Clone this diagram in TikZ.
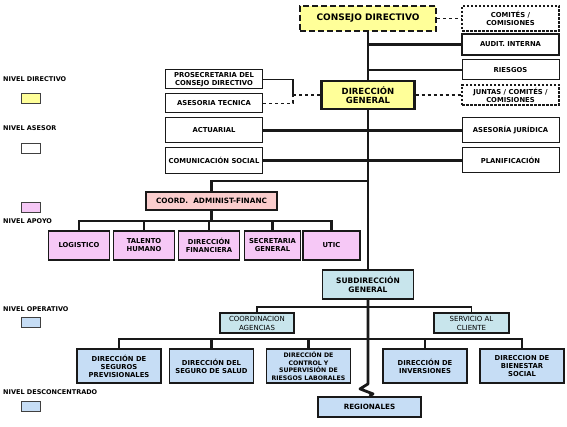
\documentclass[tikz,border=0pt]{standalone}
\usepackage{fontspec}
\setmainfont{DejaVu Sans}
\usepackage{tikz}
\usetikzlibrary{calc,positioning}
\definecolor{orgYellow}{RGB}{255,255,153}
\definecolor{orgPink}{RGB}{246,200,246}
\definecolor{orgSalmon}{RGB}{250,205,205}
\definecolor{orgTeal}{RGB}{200,229,236}
\definecolor{orgBlue}{RGB}{198,221,245}
\definecolor{orgLine}{RGB}{25,25,25}
\newcommand{\orgfont}{\fontsize{6.8}{8}\selectfont\bfseries}
\newcommand{\legfont}{\fontsize{6.5}{7}\selectfont\bfseries}

\tikzset{
  unitbox/.style={draw=orgLine, align=center, inner sep=0pt, font=\orgfont},
  dirbox/.style={unitbox, fill=orgYellow, line width=2.2pt},
  asebox/.style={unitbox, fill=white, line width=1pt, minimum width=97pt},
  dashbox/.style={asebox, line width=1.3pt, dash pattern=on 2.5pt off 1.5pt},
  apobox/.style={unitbox, fill=orgPink, line width=1.4pt, minimum height=29pt},
  subbox/.style={unitbox, fill=orgTeal, line width=1.8pt},
  opebox/.style={unitbox, fill=orgBlue, line width=1.8pt, minimum width=84pt, minimum height=34pt},
  legbox/.style={draw=black!75, line width=1pt, minimum width=19pt, minimum height=10pt, inner sep=0pt},
  legtext/.style={anchor=west, inner sep=0pt, font=\legfont},
  mainline/.style={draw=orgLine, line width=2.8pt},
  link/.style={draw=orgLine, line width=2.3pt},
  thinlink/.style={draw=orgLine, line width=1.2pt}
}

\begin{document}
\begin{tikzpicture}[x=1pt,y=-1pt]
    \useasboundingbox (0,0) rectangle (567,427);

    % nivel directivo
    \node[dirbox, dash pattern=on 6pt off 3pt, minimum width=136pt, minimum height=25pt,
          font=\fontsize{9}{10}\selectfont\bfseries] (consejo) at (368,18.5) {CONSEJO DIRECTIVO};
    \node[dirbox, minimum width=93pt, minimum height=28pt,
          font=\fontsize{8.5}{9.5}\selectfont\bfseries] (direccion) at (368,95) {DIRECCIÓN\\GENERAL};

    % nivel asesor, derecha
    \node[dashbox, minimum height=25pt] (comites) at (510.5,18.5) {COMITÉS /\\COMISIONES};
    \node[asebox, line width=1.6pt, minimum height=21pt] (auditoria) at (510.5,44.5) {AUDIT. INTERNA};
    \node[asebox, minimum height=20pt] (riesgos) at (510.5,70) {RIESGOS};
    \node[dashbox, minimum height=20pt] (juntas) at (510.5,95) {JUNTAS / COMITÉS /\\COMISIONES};
    \node[asebox, minimum height=25pt] (juridica) at (510.5,130.5) {ASESORÍA JURÍDICA};
    \node[asebox, minimum height=25pt] (planif) at (510.5,160.5) {PLANIFICACIÓN};

    % nivel asesor, izquierda
    \node[asebox, minimum height=19pt] (prosec) at (214,79.5) {PROSECRETARIA DEL\\CONSEJO DIRECTIVO};
    \node[asebox, minimum height=19pt] (tecnica) at (214,103.5) {ASESORIA TECNICA};
    \node[asebox, minimum height=25pt] (actuarial) at (214,130.5) {ACTUARIAL};
    \node[asebox, minimum height=26pt] (comsocial) at (214,160.5) {COMUNICACIÓN SOCIAL};

    % nivel apoyo
    \node[unitbox, fill=orgSalmon, line width=1.4pt, minimum width=131pt, minimum height=18pt,
          font=\fontsize{7.3}{8}\selectfont\bfseries] (coordaf) at (211.5,201) {COORD.~~ADMINIST-FINANC};
    \node[apobox, minimum width=61pt] (logistico) at (79,245.5) {LOGISTICO};
    \node[apobox, minimum width=61pt] (talento) at (144,245.5) {TALENTO\\HUMANO};
    \node[apobox, minimum width=61pt] (financiera) at (209,245.5) {DIRECCIÓN\\FINANCIERA};
    \node[apobox, minimum width=56pt] (secretaria) at (272.5,245.5) {SECRETARIA\\GENERAL};
    \node[apobox, minimum width=57pt] (utic) at (331.5,245.5) {UTIC};

    % nivel operativo
    \node[subbox, minimum width=91pt, minimum height=29pt,
          font=\fontsize{7.5}{8.5}\selectfont\bfseries] (subdir) at (368,284.5) {SUBDIRECCIÓN\\GENERAL};
    \node[subbox, line width=1.5pt, minimum width=74pt, minimum height=20pt,
          font=\fontsize{7}{9}\selectfont] (agencias) at (257,323) {COORDINACION\\AGENCIAS};
    \node[subbox, line width=1.5pt, minimum width=75pt, minimum height=20pt,
          font=\fontsize{7}{9}\selectfont] (cliente) at (471.5,323) {SERVICIO AL\\CLIENTE};
    \node[opebox] (seguros) at (119,366) {DIRECCIÓN DE\\SEGUROS\\PREVISIONALES};
    \node[opebox] (salud) at (211.5,366) {DIRECCIÓN DEL\\SEGURO DE SALUD};
    \node[opebox, font=\fontsize{6.2}{7.6}\selectfont\bfseries] (control) at (308.5,366)
        {DIRECCIÓN DE\\CONTROL Y\\SUPERVISIÓN DE\\RIESGOS LABORALES};
    \node[opebox] (inversiones) at (425,366) {DIRECCIÓN DE\\INVERSIONES};
    \node[opebox] (bienestar) at (522,366) {DIRECCION DE\\BIENESTAR\\SOCIAL};

    % nivel desconcentrado
    \node[opebox, minimum width=103pt, minimum height=20pt,
          font=\fontsize{7.2}{8}\selectfont\bfseries] (regional) at (369.5,407) {REGIONALES};

    % linea principal
    \draw[mainline] (consejo.south) -- (direccion.north);
    \draw[mainline] (direccion.south) -- (subdir.north);
    \draw[mainline, line join=round] (subdir.south) -- ++(0,84) -- ++(-8,5) -- ++(13,5) -- (regional.north);

    % enlaces asesor
    \draw[link] (auditoria.west) -- (auditoria.west -| direccion.north);
    \draw[link] (riesgos.west) -- (riesgos.west -| direccion.north);
    \draw[link] (actuarial.east) -- (juridica.west);
    \draw[link] (comsocial.east) -- (planif.west);
    \draw[thinlink, dashed] (consejo.east) -- (comites.west);
    \draw[thinlink, dashed] (direccion.east) -- (juntas.west);
    \coordinate (prosjoin) at (293,95);
    \draw[thinlink] (prosec.east) -| (prosjoin);
    \draw[thinlink, dashed] (prosjoin) -- (direccion.west);
    \draw[thinlink, dashed] (tecnica.east) -| (prosjoin);

    % enlaces apoyo
    \draw[link] (coordaf.north) |- ([yshift=10pt]coordaf.north -| direccion.south);
    \coordinate (apobus) at (0,221);
    \draw[link] (logistico.north) |- (utic.north |- apobus) -- (utic.north);
    \foreach \n in {talento,financiera,secretaria}
        \draw[link] (\n.north |- apobus) -- (\n.north);
    \draw[link] (coordaf.south) -- (coordaf.south |- apobus);

    % enlaces operativo
    \coordinate (opebus) at (0,307);
    \draw[thinlink, line width=1.5pt] (agencias.north) |- (cliente.north |- opebus) -- (cliente.north);
    \coordinate (dirbus) at (0,339);
    \draw[link] (seguros.north) |- (bienestar.north |- dirbus) -- (bienestar.north);
    \foreach \n in {salud,control,inversiones}
        \draw[link] (\n.north) -- (\n.north |- dirbus);

    % leyenda
    \node[legtext] (levdir) at (3,79) {NIVEL DIRECTIVO};
    \node[legbox, fill=orgYellow] (sqdir) at (30.5,99) {};
    \node[legtext] (levase) at (3,128) {NIVEL ASESOR};
    \node[legbox, fill=white] (sqase) at (30.5,148.5) {};
    \node[legbox, fill=orgPink] (sqapo) at (30.5,207.5) {};
    \node[legtext] (levapo) at (3,221) {NIVEL APOYO};
    \node[legtext] (levope) at (3,309) {NIVEL OPERATIVO};
    \node[legbox, fill=orgBlue] (sqope) at (30.5,322) {};
    \node[legtext] (levdes) at (3,392) {NIVEL DESCONCENTRADO};
    \node[legbox, fill=orgBlue] (sqdes) at (30.5,406) {};
\end{tikzpicture}
\end{document}
